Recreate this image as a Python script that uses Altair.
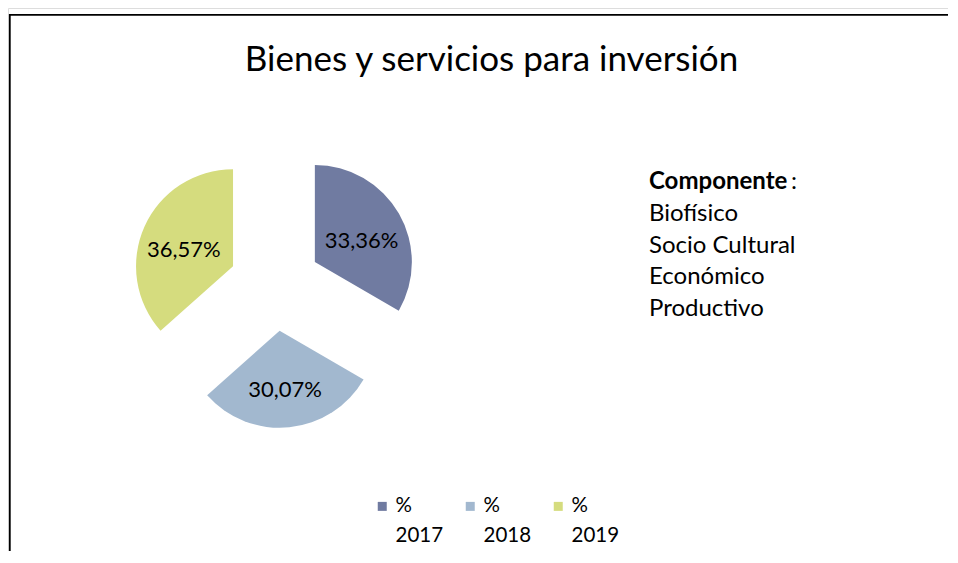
import altair as alt
import pandas as pd

# ---- data ----
title_text = "Bienes y servicios para inversión"
years = ["2017", "2018", "2019"]
shares = [33.36, 30.07, 36.57]
share_labels = ["33,36%", "30,07%", "36,57%"]
colors = ["#707BA1", "#A2B8CF", "#D5DC7E"]
component_head = "Componente"
component_items = ["Biofísico", "Socio Cultural", "Económico", "Productivo"]

series = ["% " + y for y in years]

# ---- layout / style ----
FONT = "Lato"
W, H = 940, 543
CX, CY = 267, 277      # pie centre (px)
R = 97                 # pie radius
EXPLODE = 46           # slice explosion distance
LABEL_R = 54           # label distance from slice apex

df = pd.DataFrame({
    "serie": series,
    "value": shares,
    "label": share_labels,
    "order": list(range(len(series))),
})

base = (
    alt.Chart(df)
    .transform_joinaggregate(total="sum(value)")
    .transform_window(cum="sum(value)", sort=[alt.SortField("order")], frame=[None, 0])
    .transform_calculate(
        a0="2*PI*(datum.cum-datum.value)/datum.total",
        a1="2*PI*datum.cum/datum.total",
    )
    .transform_calculate(mid="(datum.a0+datum.a1)/2")
    .transform_calculate(
        px=f"{CX}+{EXPLODE}*sin(datum.mid)",
        py=f"{CY}-{EXPLODE}*cos(datum.mid)",
        lx=f"{CX}+({EXPLODE}+{LABEL_R})*sin(datum.mid)",
        ly=f"{CY}-({EXPLODE}+{LABEL_R})*cos(datum.mid)",
    )
)

slices = base.mark_arc(outerRadius=R).encode(
    x=alt.X("px:Q", scale=None, axis=None),
    y=alt.Y("py:Q", scale=None, axis=None),
    theta=alt.Theta("a0:Q", scale=None),
    theta2="a1:Q",
    color=alt.Color(
        "serie:N",
        scale=alt.Scale(domain=series, range=colors),
        legend=alt.Legend(
            title=None,
            orient="none",
            direction="horizontal",
            legendX=364,
            legendY=488,
            padding=0,
            symbolType="square",
            symbolSize=81,
            symbolStrokeWidth=0,
            symbolOpacity=1,
            labelFont=FONT,
            labelFontSize=20.5,
            labelColor="#000000",
            labelOffset=3,
            labelBaseline="middle",
            labelExpr="split(datum.label, ' ')",
            columnPadding=16,
        ),
    ),
)

labels = base.mark_text(font=FONT, fontSize=22, color="#000000", dy=6).encode(
    x=alt.X("lx:Q", scale=None, axis=None),
    y=alt.Y("ly:Q", scale=None, axis=None),
    text="label:N",
)

one = alt.Data(values=[{"k": 0}])

title_mark = alt.Chart(one).mark_text(
    text=title_text, font=FONT, fontSize=35, align="center",
    baseline="alphabetic", color="#000000",
).encode(x=alt.value(483.5), y=alt.value(63))

comp_head = alt.Chart(one).mark_text(
    text=component_head, font=FONT, fontSize=24, fontWeight="bold",
    align="left", baseline="alphabetic", color="#000000",
).encode(x=alt.value(641), y=alt.value(181))

comp_colon = alt.Chart(one).mark_text(
    text=":", font=FONT, fontSize=24, align="left", baseline="alphabetic", color="#000000",
).encode(x=alt.value(783), y=alt.value(181))

comp_items = alt.Chart(one).mark_text(
    text=component_items, font=FONT, fontSize=24, align="left",
    baseline="alphabetic", lineHeight=31.7, color="#000000",
).encode(x=alt.value(641), y=alt.value(213))

frame_top = alt.Chart(one).mark_rule(color="#000000", strokeWidth=1.8).encode(
    x=alt.value(1), x2=alt.value(W), y=alt.value(6.8)
)
frame_left = alt.Chart(one).mark_rule(color="#000000", strokeWidth=1.8).encode(
    x=alt.value(1.8), y=alt.value(6), y2=alt.value(H)
)

chart = (
    alt.layer(frame_top, frame_left, slices, labels, title_mark,
              comp_head, comp_colon, comp_items)
    .properties(
        width=W,
        height=H,
        padding=0,
        autosize=alt.AutoSizeParams(type="none"),
    )
    .configure_view(strokeWidth=0)
    .configure(style={"guide-label": {"lineHeight": 30}})
)

chart.save("out.html", embed_options={"renderer": "svg", "actions": False})
